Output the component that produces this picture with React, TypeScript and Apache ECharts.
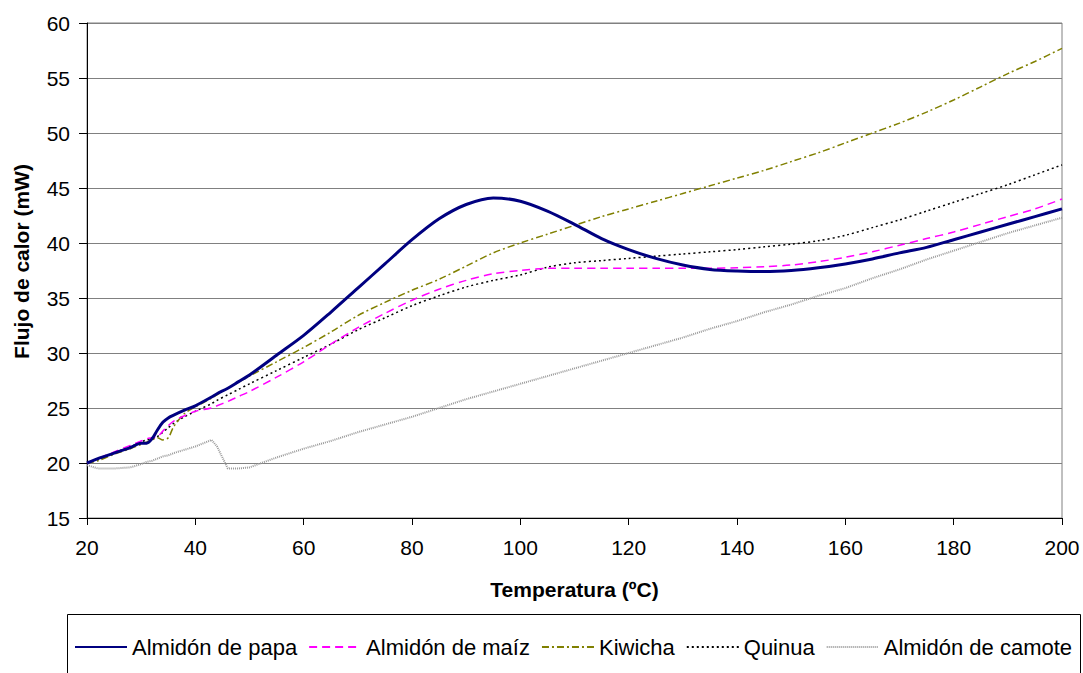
import React, { useEffect, useRef } from "react";
import * as echarts from "echarts";

const TEMPS = [20, 22, 25, 28, 30, 31, 32, 33, 34, 35, 36, 38, 40, 43, 44, 46, 48, 50, 55, 60, 65, 70, 75, 80, 85, 90, 95, 100, 105, 110, 115, 120, 125, 130, 135, 140, 145, 150, 155, 160, 165, 170, 175, 180, 185, 190, 195, 200];

const PAPA = [20.0, 20.4, 20.9, 21.4, 21.8, 21.8, 22.2, 23.0, 23.7, 24.1, 24.35, 24.8, 25.2, 26.0, 26.3, 26.8, 27.4, 28.0, 29.8, 31.6, 33.7, 35.9, 38.1, 40.3, 42.2, 43.5, 44.1, 43.8, 42.9, 41.7, 40.4, 39.4, 38.6, 38.0, 37.6, 37.45, 37.4, 37.5, 37.75, 38.1, 38.55, 39.1, 39.6, 40.3, 41.0, 41.7, 42.4, 43.1];

const MAIZ = [20.0, 20.4, 21.0, 21.6, 22.0, 22.2, 22.3, 22.4, 22.9, 23.4, 23.8, 24.3, 24.7, 25.0, 25.2, 25.6, 26.05, 26.5, 27.8, 29.2, 30.8, 32.3, 33.6, 34.8, 35.8, 36.6, 37.2, 37.5, 37.7, 37.7, 37.7, 37.7, 37.7, 37.7, 37.7, 37.75, 37.85, 38.0, 38.3, 38.7, 39.2, 39.8, 40.4, 41.0, 41.7, 42.4, 43.1, 44.0];

const KIWICHA = [20.0, 20.2, 20.8, 21.3, 21.7, 21.9, 22.1, 22.3, 22.1, 22.3, 23.3, 24.5, 25.1, 25.9, 26.2, 26.8, 27.35, 27.9, 29.2, 30.5, 31.9, 33.4, 34.6, 35.7, 36.7, 37.9, 39.1, 40.0, 40.8, 41.6, 42.4, 43.1, 43.8, 44.5, 45.2, 45.9, 46.6, 47.4, 48.2, 49.1, 50.0, 50.9, 51.9, 53.0, 54.2, 55.4, 56.5, 57.7];

const QUINUA = [20.0, 20.3, 20.9, 21.5, 21.9, 22.1, 22.2, 22.4, 22.8, 23.2, 23.6, 24.2, 24.7, 25.4, 25.7, 26.2, 26.7, 27.2, 28.4, 29.6, 30.8, 32.1, 33.2, 34.3, 35.2, 36.0, 36.6, 37.1, 37.8, 38.2, 38.4, 38.6, 38.8, 39.0, 39.2, 39.4, 39.65, 39.9, 40.2, 40.7, 41.4, 42.1, 42.9, 43.7, 44.5, 45.3, 46.2, 47.1];

const CAMOTE = [19.8, 19.5, 19.5, 19.6, 19.9, 20.1, 20.2, 20.4, 20.6, 20.7, 20.9, 21.2, 21.5, 22.1, 21.5, 19.5, 19.5, 19.6, 20.5, 21.3, 22.0, 22.8, 23.5, 24.2, 25.0, 25.8, 26.5, 27.2, 27.9, 28.6, 29.3, 30.0, 30.7, 31.4, 32.2, 32.9, 33.7, 34.4, 35.2, 35.9, 36.8, 37.6, 38.5, 39.3, 40.1, 40.9, 41.6, 42.3];

const SERIES_NAMES = ["Almidón de papa", "Almidón de maíz", "Kiwicha", "Quinua", "Almidón de camote"];
const X_TITLE = "Temperatura (ºC)";
const Y_TITLE = "Flujo de calor (mW)";

const FONT = "'Liberation Sans', Arial, Helvetica, sans-serif";

function pairs(vals: number[]) {
  return TEMPS.map((t, i) => [t, vals[i]]);
}

export default function App() {
  const ref = useRef<HTMLDivElement>(null);
  useEffect(() => {
    document.body.style.margin = "0";
    const chart = echarts.init(ref.current!, null, { renderer: "svg" });
    const styles = [
      { data: PAPA, color: "#000080", width: 3, type: "solid", smooth: 0.3 },
      { data: MAIZ, color: "#FF00FF", width: 1.5, type: [8, 5], smooth: 0.3 },
      { data: KIWICHA, color: "#808000", width: 1.5, type: [7, 3, 2, 3], smooth: 0.3 },
      { data: QUINUA, color: "#000000", width: 1.5, type: [2, 3], smooth: 0.3 },
      { data: CAMOTE, color: "#9a9a9a", width: 2, type: [1, 1], smooth: false },
    ];
    chart.setOption({
      animation: false,
      backgroundColor: "#ffffff",
      textStyle: { fontFamily: FONT },
      grid: {
        left: 87,
        right: 21,
        top: 23,
        bottom: 155,
        show: true,
        borderColor: "#808080",
        borderWidth: 1,
      },
      xAxis: {
        type: "value",
        min: 20,
        max: 200,
        interval: 20,
        name: X_TITLE,
        nameLocation: "middle",
        nameGap: 61,
        nameTextStyle: { fontFamily: FONT, fontSize: 21, fontWeight: "bold", color: "#000" },
        axisLine: { show: true, lineStyle: { color: "#000", width: 1 } },
        axisTick: { show: true, inside: false, length: 7, lineStyle: { color: "#000" } },
        axisLabel: { fontFamily: FONT, fontSize: 21, color: "#000", margin: 19 },
        splitLine: { show: false },
      },
      yAxis: {
        type: "value",
        min: 15,
        max: 60,
        interval: 5,
        name: Y_TITLE,
        nameLocation: "middle",
        nameGap: 55,
        nameTextStyle: {
          fontFamily: FONT,
          fontSize: 21,
          fontWeight: "bold",
          color: "#000",
          padding: [0, 0, 0, 18],
        },
        axisLine: { show: true, lineStyle: { color: "#000", width: 1 } },
        axisTick: { show: true, inside: false, length: 8, lineStyle: { color: "#000" } },
        axisLabel: { fontFamily: FONT, fontSize: 21, color: "#000", margin: 17 },
        splitLine: { show: true, lineStyle: { color: "#808080", width: 1 } },
      },
      legend: {
        left: 74,
        top: 636,
        padding: 0,
        itemWidth: 52,
        itemHeight: 14,
        itemGap: 11,
        data: SERIES_NAMES,
        itemStyle: { opacity: 0 },
        textStyle: { fontFamily: FONT, fontSize: 22, color: "#000" },
      },
      graphic: [
        {
          type: "rect",
          shape: { x: 67.5, y: 614.5, width: 1013, height: 80 },
          style: { fill: "none", stroke: "#000", lineWidth: 1 },
          silent: true,
          z: -1,
        },
      ],
      series: styles.map((s, i) => ({
        name: SERIES_NAMES[i],
        type: "line",
        data: pairs(s.data),
        showSymbol: false,
        symbol: "none",
        smooth: s.smooth,
        lineStyle: { color: s.color, width: s.width, type: s.type },
        itemStyle: { color: s.color },
        z: 10 - i,
      })),
    });
    return () => chart.dispose();
  }, []);
  return <div ref={ref} style={{ width: 1083, height: 673 }} />;
}
